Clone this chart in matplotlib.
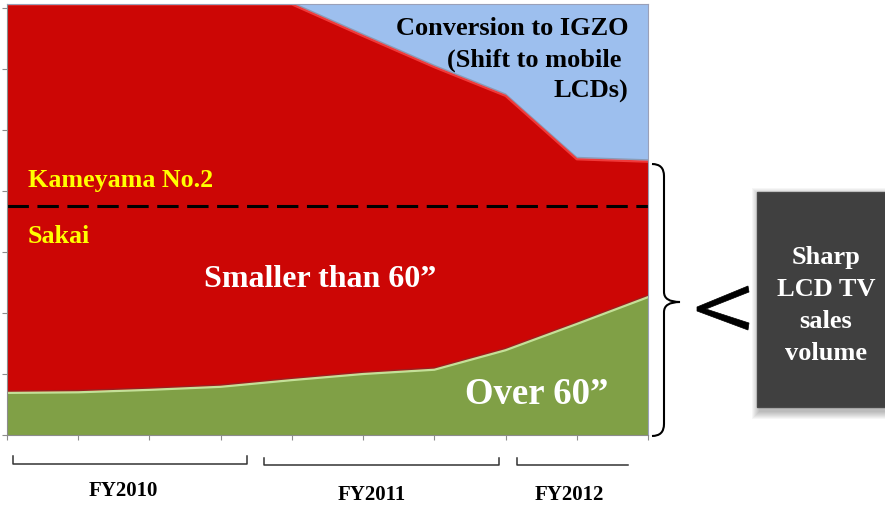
import numpy as np
import matplotlib.pyplot as plt
from matplotlib.patches import Rectangle, PathPatch, Polygon
from matplotlib.path import Path
from matplotlib.transforms import Affine2D

# quarterly sales volume split by panel size / fab use (units of the y scale)
periods = np.arange(10)
over_60 = [0.69, 0.70, 0.74, 0.79, 0.90, 1.00, 1.07, 1.39, 1.82, 2.26]
smaller_60 = [6.37, 6.36, 6.32, 6.27, 6.16, 5.54, 4.96, 4.17, 2.70, 2.22]
igzo = [0.00, 0.00, 0.00, 0.00, 0.00, 0.52, 1.03, 1.50, 2.54, 2.58]
fab_split = 3.75  # Kameyama No.2 above, Sakai below

fy_labels = ["FY2010", "FY2011", "FY2012"]

RED = "#cc0605"
GREEN = "#80a046"
BLUE = "#9dbfee"
SERIF = "Liberation Serif"

W, H = 885, 506
fig = plt.figure(figsize=(W / 100, H / 100), dpi=100)
# pixel coordinates, origin top-left
pix = Affine2D().scale(1 / W, -1 / H).translate(0, 1) + fig.transFigure

ax = fig.add_axes([7 / W, 70 / H, 641 / W, 431 / H])
ax.stackplot(periods, over_60, smaller_60, igzo,
             colors=[GREEN, RED, BLUE], linewidth=0)
green_top = np.array(over_60)
red_top = green_top + np.array(smaller_60)
ax.plot(periods, red_top + 0.03, color="#8a9bb5", lw=1.0)
ax.plot(periods, red_top, color="#f03a3a", lw=1.6)
ax.plot(periods, green_top + 0.03, color="#9a2020", lw=1.0)
ax.plot(periods, green_top, color="#c4e098", lw=1.6)
ax.axhline(fab_split, color="black", lw=2.2, ls=(0, (7, 2.8)))

ax.set_xlim(0, 9)
ax.set_ylim(0, 7.066)
ax.set_xticks(periods)
ax.set_yticks(range(8))
ax.tick_params(length=3.5, color="#8c8c8c", labelbottom=False, labelleft=False)
for side in ["left", "bottom"]:
    ax.spines[side].set_color("#8c8c8c")
for side in ["top", "right"]:
    ax.spines[side].set_color("#9aa0b8")
    ax.spines[side].set_linewidth(0.8)

# labels inside the plot
txt = dict(family=SERIF, weight="bold", transform=pix)
fig.text(28, 187, "Kameyama No.2", color="#ffff00", fontsize=18.7, **txt)
fig.text(28, 243, "Sakai", color="#ffff00", fontsize=18.7, **txt)
fig.text(320, 287, "Smaller than 60\u201d", color="white", fontsize=23,
         ha="center", **txt)
fig.text(537, 404, "Over 60\u201d", color="white", fontsize=26.5,
         ha="center", **txt)
for line, base in zip(["Conversion to IGZO", "(Shift to mobile ", "LCDs)"],
                      [35, 67, 98]):
    fig.text(628, base, line, color="black", fontsize=19, ha="right", **txt)

# fiscal year brackets under the axis
brackets = [[(13, 457), (13, 465), (247, 465), (247, 457)],
            [(264, 459), (264, 466), (499, 466), (499, 459)],
            [(517, 459), (517, 466), (628, 466)]]
for pts in brackets:
    xs, ys = zip(*pts)
    fig.add_artist(plt.Line2D(xs, ys, color="#333333", lw=1.1, transform=pix))
for label, cx, base in zip(fy_labels, [123, 372, 569], [496, 500, 500]):
    fig.text(cx, base, label, color="black", fontsize=15, ha="center", **txt)

# curly brace to the right of the plot
brace = Path([(652, 165), (664, 165), (664, 177), (664, 293),
              (664, 303), (680, 303), (664, 303), (664, 313),
              (664, 425), (664, 437), (652, 437)],
             [Path.MOVETO, Path.CURVE3, Path.CURVE3, Path.LINETO,
              Path.CURVE3, Path.CURVE3, Path.CURVE3, Path.CURVE3,
              Path.LINETO, Path.CURVE3, Path.CURVE3])
fig.add_artist(PathPatch(brace, fc="none", ec="black", lw=1.5, transform=pix))

# tapered "<" pointer
arrow = [(748, 287), (749, 293), (706, 310), (749, 324), (748, 331),
         (697, 312), (697, 308)]
fig.add_artist(Polygon(arrow, closed=True, fc="black", ec="black", lw=0.5,
                       transform=pix))

# dark callout box with a soft shadow
for i in range(8, 0, -1):
    fig.add_artist(Rectangle((757 - i + 3, 193 - i + 4), 138 + 2 * i, 215 + 2 * i,
                             fc="black", ec="none", alpha=0.035, transform=pix))
fig.add_artist(Rectangle((757, 193), 138, 215, fc="#404040", ec="#4a4a4a",
                         transform=pix))
for line, base in zip(["Sharp", "LCD TV", "sales", "volume"],
                      [264, 296, 328, 360]):
    fig.text(826, base, line, color="white", fontsize=19, ha="center", **txt)

fig.savefig("out.png", dpi=100)
